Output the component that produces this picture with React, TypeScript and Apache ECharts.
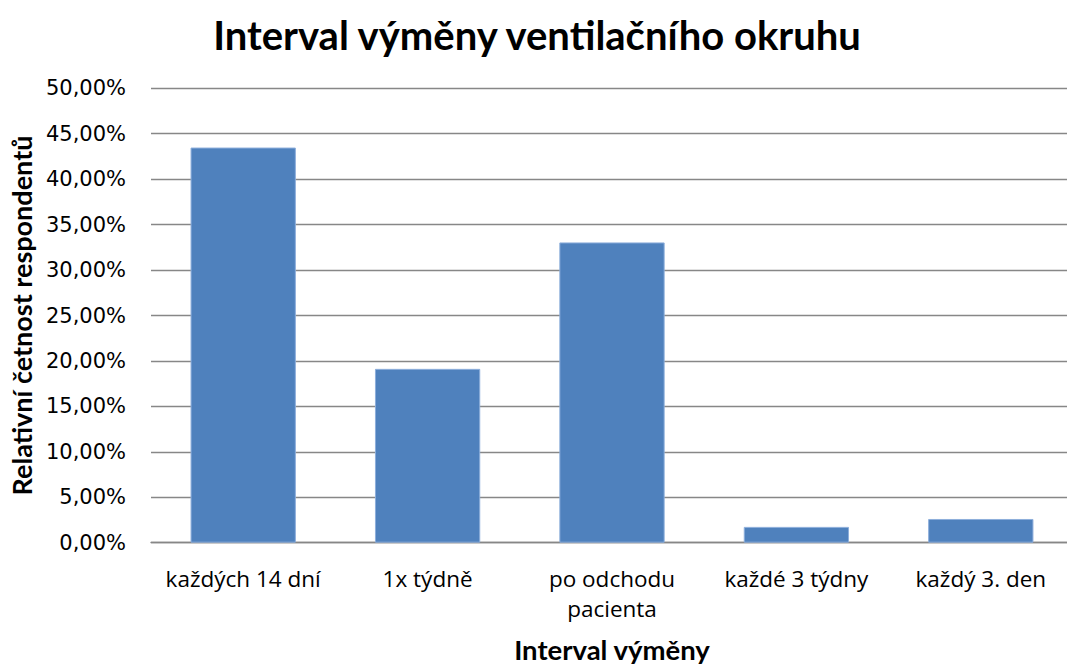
import React, { useEffect, useRef } from "react";
import * as echarts from "echarts";

const titleText = "Interval výměny ventilačního okruhu";
const xAxisTitle = "Interval výměny";
const yAxisTitle = "Relativní četnost respondentů";
const categories = ["každých 14 dní", "1x týdně", "po odchodu\npacienta", "každé 3 týdny", "každý 3. den"];
const values = [43.48, 19.13, 33.04, 1.74, 2.61];
const yMin = 0;
const yMax = 50;
const yStep = 5;

const boldFont = "Lato, 'Open Sans', sans-serif";
const regFont = "'Open Sans', sans-serif";
const numFont = "'DejaVu Sans', 'Open Sans', sans-serif";

export default function App() {
  const ref = useRef<HTMLDivElement>(null);
  useEffect(() => {
    if (!ref.current) return;
    const chart = echarts.init(ref.current, null, { renderer: "svg", width: 1067, height: 666 });
    chart.setOption({
      animation: false,
      backgroundColor: "#ffffff",
      graphic: [
        {
          type: "text",
          x: 537,
          y: 35,
          style: {
            text: titleText,
            textAlign: "center",
            textVerticalAlign: "middle",
            fontFamily: boldFont,
            fontWeight: "bold",
            fontSize: 40,
            fill: "#000000",
          },
        },
      ],
      grid: {
        left: 151,
        right: -6,
        top: 88.3,
        bottom: 123.3,
        containLabel: false,
        outerBoundsMode: "none",
      },
      xAxis: {
        type: "category",
        data: categories,
        name: xAxisTitle,
        nameLocation: "middle",
        nameGap: 93,
        nameTextStyle: { fontFamily: boldFont, fontWeight: "bold", fontSize: 27.5, color: "#000" },
        axisLine: { show: true, lineStyle: { color: "#878787", width: 1.3 } },
        axisTick: { show: false },
        axisLabel: {
          interval: 0,
          margin: 21,
          fontFamily: regFont,
          fontSize: 22.5,
          lineHeight: 30,
          color: "#000",
        },
      },
      yAxis: {
        type: "value",
        min: yMin,
        max: yMax,
        interval: yStep,
        name: yAxisTitle,
        nameLocation: "middle",
        nameGap: 112,
        nameTextStyle: { fontFamily: boldFont, fontWeight: "bold", fontSize: 27, color: "#000" },
        axisLine: { show: false },
        axisTick: { show: false },
        splitLine: { show: true, lineStyle: { color: "#878787", width: 1.3 } },
        axisLabel: {
          margin: 25,
          fontFamily: numFont,
          fontSize: 21,
          color: "#000",
          formatter: (v: number) => v.toFixed(2).replace(".", ",") + "%",
        },
      },
      series: [
        {
          type: "bar",
          data: values,
          barWidth: "57.1%",
          itemStyle: { color: "#4F81BD", borderColor: "#8DAEDB", borderWidth: 1 },
        },
      ],
    });
    return () => chart.dispose();
  }, []);
  return <div ref={ref} style={{ position: "absolute", left: 0, top: 0, width: 1067, height: 666 }} />;
}
